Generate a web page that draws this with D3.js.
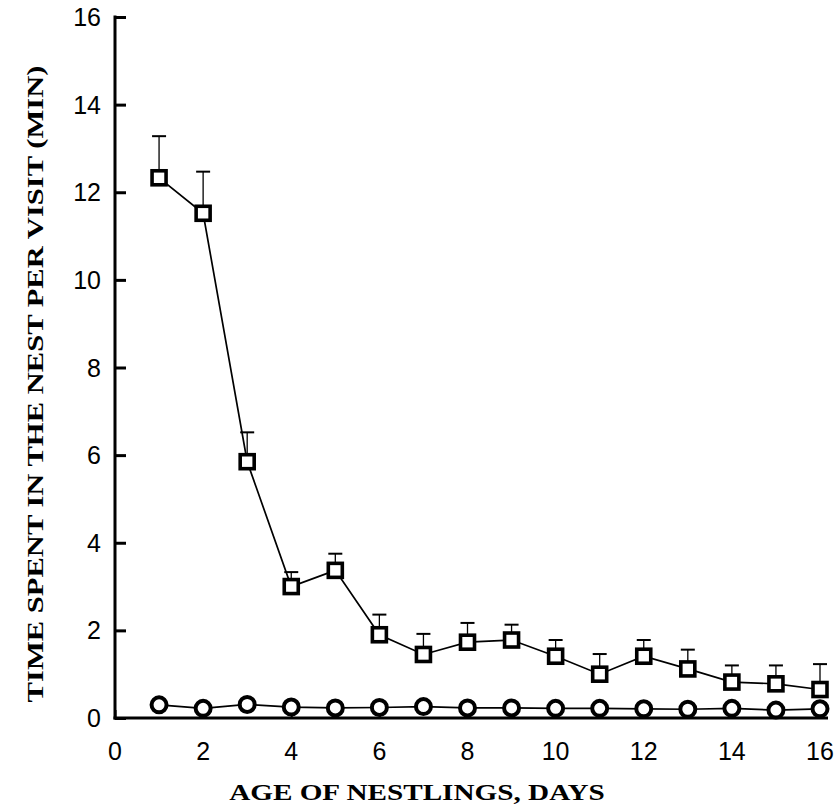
<!DOCTYPE html>
<html>
<head>
<meta charset="utf-8">
<script src="https://cdn.jsdelivr.net/npm/d3@7/dist/d3.min.js"></script>
<style>
  body { margin: 0; background: #fff; }
  .tick-label { font-family: "Liberation Sans", Arial, sans-serif; font-size: 25px; fill: #000; }
  .axis-title { font-family: "Liberation Serif", "Times New Roman", serif; font-weight: bold; font-size: 23px; fill: #000; }
</style>
</head>
<body>
<div id="chart"></div>
<script>
const WIDTH = 840;
const HEIGHT = 805;

// data
const days = [1, 2, 3, 4, 5, 6, 7, 8, 9, 10, 11, 12, 13, 14, 15, 16];
const squareMeans = [12.33, 11.52, 5.85, 3.0, 3.37, 1.9, 1.45, 1.73, 1.78, 1.41, 1.0, 1.41, 1.12, 0.82, 0.78, 0.65];
const squareErrTops = [13.28, 12.47, 6.52, 3.33, 3.75, 2.36, 1.92, 2.17, 2.13, 1.78, 1.46, 1.78, 1.56, 1.2, 1.2, 1.23];
const circleMeans = [0.3, 0.22, 0.31, 0.25, 0.23, 0.24, 0.26, 0.23, 0.23, 0.22, 0.22, 0.21, 0.2, 0.22, 0.18, 0.21];
const xTicks = [0, 2, 4, 6, 8, 10, 12, 14, 16];
const yTicks = [0, 2, 4, 6, 8, 10, 12, 14, 16];

const x = d3.scaleLinear().domain([0, 16]).range([115, 820]);
const y = d3.scaleLinear().domain([0, 16]).range([718, 17]);

const svg = d3.select("#chart").append("svg")
    .attr("width", WIDTH)
    .attr("height", HEIGHT);

// axes, ticks pointing inward
const gy = svg.append("g")
    .attr("transform", "translate(" + x(0) + ",0)")
    .call(d3.axisRight(y).tickValues(yTicks).tickSize(11).tickFormat(""));
gy.select(".domain").attr("stroke-width", 3).attr("d", "M0," + (y(16) - 1.5) + "V" + (y(0) + 1.5));
gy.selectAll(".tick line").attr("stroke-width", 3);

const gx = svg.append("g")
    .attr("transform", "translate(0," + y(0) + ")")
    .call(d3.axisTop(x).tickValues(xTicks).tickSize(8).tickFormat(""));
gx.select(".domain").attr("stroke-width", 3).attr("d", "M" + (x(0) - 1.5) + ",0H" + (x(16) + 8));
gx.selectAll(".tick line").attr("stroke-width", 2);

// tick labels
svg.append("g").selectAll("text")
    .data(yTicks)
    .join("text")
    .attr("class", "tick-label")
    .attr("x", x(0) - 14)
    .attr("y", d => y(d))
    .attr("dy", "0.36em")
    .attr("text-anchor", "end")
    .text(d => d);

svg.append("g").selectAll("text")
    .data(xTicks)
    .join("text")
    .attr("class", "tick-label")
    .attr("x", d => x(d))
    .attr("y", 760)
    .attr("text-anchor", "middle")
    .text(d => d);

// axis titles (the scanned serif is wide, so stretch it a bit)
svg.append("text")
    .attr("class", "axis-title")
    .attr("transform", "translate(417,800) scale(1.27,1)")
    .attr("text-anchor", "middle")
    .text("AGE OF NESTLINGS, DAYS");

svg.append("text")
    .attr("class", "axis-title")
    .attr("transform", "translate(43,384) rotate(-90) scale(1.33,1)")
    .attr("text-anchor", "middle")
    .text("TIME SPENT IN THE NEST PER VISIT (MIN)");

// error bars (upper only)
const errs = svg.append("g").attr("stroke", "#000").attr("stroke-width", 1.3);
days.forEach((d, i) => {
    errs.append("line")
        .attr("x1", x(d)).attr("x2", x(d))
        .attr("y1", y(squareMeans[i])).attr("y2", y(squareErrTops[i]));
    errs.append("line")
        .attr("x1", x(d) - 7).attr("x2", x(d) + 7)
        .attr("y1", y(squareErrTops[i])).attr("y2", y(squareErrTops[i]))
        .attr("stroke-width", 2);
});

const line = d3.line().x(d => x(d[0])).y(d => y(d[1]));

// circle series
svg.append("path")
    .datum(days.map((d, i) => [d, circleMeans[i]]))
    .attr("d", line)
    .attr("fill", "none")
    .attr("stroke", "#000")
    .attr("stroke-width", 1.7);

svg.append("g").selectAll("circle")
    .data(days)
    .join("circle")
    .attr("cx", d => x(d))
    .attr("cy", (d, i) => y(circleMeans[i]))
    .attr("r", 7.5)
    .attr("fill", "#fff")
    .attr("stroke", "#000")
    .attr("stroke-width", 4);

// square series
svg.append("path")
    .datum(days.map((d, i) => [d, squareMeans[i]]))
    .attr("d", line)
    .attr("fill", "none")
    .attr("stroke", "#000")
    .attr("stroke-width", 1.7);

const SQ = 14;
svg.append("g").selectAll("rect")
    .data(days)
    .join("rect")
    .attr("x", d => x(d) - SQ / 2)
    .attr("y", (d, i) => y(squareMeans[i]) - SQ / 2)
    .attr("width", SQ)
    .attr("height", SQ)
    .attr("fill", "#fff")
    .attr("stroke", "#000")
    .attr("stroke-width", 3.6);
</script>
</body>
</html>
